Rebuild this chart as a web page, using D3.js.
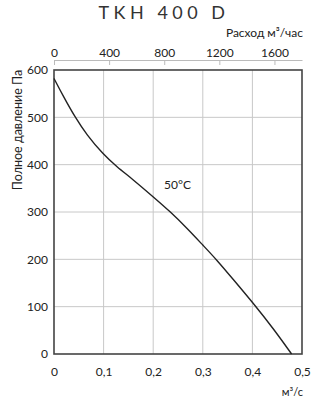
<!DOCTYPE html>
<html lang="ru">
	<head>
		<meta charset="utf-8">
		<title>TKH 400 D</title>
		<script src="https://cdn.jsdelivr.net/npm/d3@7"></script>
		<style>
			body { margin: 0; background: #fff; }
			text { font-family: Lato, "Open Sans", sans-serif; fill: #222; }
		</style>
	</head>
	<body>
		<script>

			//Data
			let flow = [0, 0.019, 0.042, 0.066, 0.099, 0.126, 0.16, 0.2, 0.234, 0.268, 0.301, 0.328, 0.361, 0.402, 0.442, 0.479];
			let pressure = [582, 544, 501, 463, 422, 396, 368, 332, 301, 266, 229, 199, 158, 107, 54, 0];
			let xTicks = [0, 0.1, 0.2, 0.3, 0.4, 0.5];
			let yTicks = [0, 100, 200, 300, 400, 500, 600];
			let hourTicks = [0, 400, 800, 1200, 1600];

			let w = 313;
			let h = 400;
			let plotLeft = 54, plotRight = 302, plotTop = 70, plotBottom = 354;

			let x = d3.scaleLinear().domain([0, 0.5]).range([plotLeft, plotRight]);
			let xh = d3.scaleLinear().domain([0, 1800]).range([plotLeft, plotRight]);
			let y = d3.scaleLinear().domain([0, 600]).range([plotBottom, plotTop]);

			let svg = d3.select("body")
						.append("svg")
						  .attr("width", w)
						  .attr("height", h);

			//Title
			svg.append("text")
			    .attr("x", 164)
			    .attr("y", 19)
			    .attr("text-anchor", "middle")
			    .style("font-size", "18px")
			    .style("letter-spacing", "4.5px")
			    .style("fill", "#333")
			    .text("TKH 400 D");

			//Grid
			svg.append("g")
			    .selectAll("line")
			    .data(xTicks.slice(1, -1))
			    .enter()
			  .append("line")
			    .attr("x1", d => x(d)).attr("x2", d => x(d))
			    .attr("y1", plotTop).attr("y2", plotBottom)
			    .attr("stroke", "#c8c8c8");

			svg.append("g")
			    .selectAll("line")
			    .data(yTicks.slice(1, -1))
			    .enter()
			  .append("line")
			    .attr("x1", plotLeft).attr("x2", plotRight)
			    .attr("y1", d => y(d)).attr("y2", d => y(d))
			    .attr("stroke", "#c8c8c8");

			//Top axis m3/h: light line, ticks hang down, labels above
			let topAxis = svg.append("g")
			    .attr("transform", "translate(0,60)")
			    .call(d3.axisBottom(xh).tickValues(hourTicks).tickSize(5).tickSizeOuter(0).tickFormat(d3.format("d")));
			topAxis.select(".domain").attr("stroke", "#bbb");
			topAxis.selectAll(".tick line").attr("stroke", "#bbb");
			topAxis.selectAll("text")
			    .attr("y", -3)
			    .attr("dy", 0)
			    .style("font-size", "12px")
			    .style("font-family", "Lato, sans-serif")
			    .attr("fill", "#222");

			svg.append("text")
			    .attr("x", plotRight + 1)
			    .attr("y", 37)
			    .attr("text-anchor", "end")
			    .style("font-size", "12px")
			    .text("Расход м³/час");

			//Bottom axis
			let bottomAxis = svg.append("g")
			    .attr("transform", `translate(0,${plotBottom})`)
			    .call(d3.axisBottom(x).tickValues(xTicks).tickSize(0).tickPadding(13).tickFormat(d => d3.format(".1f")(d).replace(".", ",").replace(/^0,0$/, "0")));
			bottomAxis.select(".domain").remove();
			bottomAxis.selectAll("text").style("font-size", "12px").style("font-family", "Lato, sans-serif").attr("fill", "#222");

			svg.append("text")
			    .attr("x", plotRight + 1)
			    .attr("y", 396)
			    .attr("text-anchor", "end")
			    .style("font-size", "11px")
			    .text("м³/с");

			//Left axis
			let leftAxis = svg.append("g")
			    .attr("transform", `translate(${plotLeft},0)`)
			    .call(d3.axisLeft(y).tickValues(yTicks).tickSize(0).tickPadding(6));
			leftAxis.select(".domain").remove();
			leftAxis.selectAll("text").style("font-size", "12px").style("font-family", "Lato, sans-serif").attr("fill", "#222");

			svg.append("text")
			    .attr("transform", "translate(22,130) rotate(-90)")
			    .attr("text-anchor", "middle")
			    .style("font-size", "12.5px")
			    .text("Полное давление Па");

			//Frame
			svg.append("rect")
			    .attr("x", plotLeft).attr("y", plotTop)
			    .attr("width", plotRight - plotLeft).attr("height", plotBottom - plotTop)
			    .attr("fill", "none")
			    .attr("stroke", "#444")
			    .attr("stroke-width", 1.6);

			//Curve
			let line = d3.line()
			    .x((d, i) => x(flow[i]))
			    .y(d => y(d))
			    .curve(d3.curveBasis);

			svg.append("path")
			    .attr("d", line(pressure))
			    .attr("fill", "none")
			    .attr("stroke", "#222")
			    .attr("stroke-width", 1.4);

			svg.append("text")
			    .attr("x", 164)
			    .attr("y", 189)
			    .style("font-size", "12px")
			    .text("50°C");

		</script>
	</body>
</html>
